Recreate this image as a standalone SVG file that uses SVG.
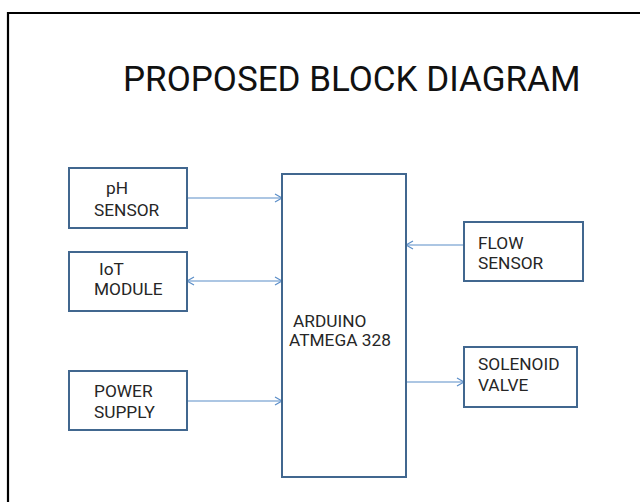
<svg xmlns="http://www.w3.org/2000/svg" width="640" height="502" viewBox="0 0 640 502">
<defs>
<style>
.box{fill:#ffffff;stroke:#41678f;stroke-width:2}
.lbl{font-family:Roboto,"Liberation Sans",sans-serif;font-size:17.3px;fill:#262626}
.title{font-family:Roboto,"Liberation Sans",sans-serif;font-size:35px;fill:#111111}
.conn{stroke:#5b8ec8;stroke-width:1.2;fill:none}
</style>
<marker id="arr" markerUnits="userSpaceOnUse" markerWidth="12" markerHeight="12" viewBox="0 0 12 12" refX="10" refY="6" orient="auto-start-reverse">
<path d="M3,2 L10,6 L3,10" fill="none" stroke="#5b8ec8" stroke-width="1.2"/>
</marker>
</defs>
<rect x="0" y="0" width="640" height="502" fill="#ffffff"/>
<path d="M8,502 V13 H640" fill="none" stroke="#000000" stroke-width="2.2"/>
<text class="title" x="123" y="91">PROPOSED BLOCK DIAGRAM</text>
<g id="connectors">
<line class="conn" x1="187" y1="198" x2="282" y2="198" marker-end="url(#arr)"/>
<line class="conn" x1="187" y1="281" x2="282" y2="281" marker-start="url(#arr)" marker-end="url(#arr)"/>
<line class="conn" x1="187" y1="401" x2="282" y2="401" marker-end="url(#arr)"/>
<line class="conn" x1="464" y1="245" x2="406" y2="245" marker-end="url(#arr)"/>
<line class="conn" x1="406" y1="382" x2="464" y2="382" marker-end="url(#arr)"/>
</g>
<g id="ph-sensor">
<rect class="box" x="69" y="168" width="118" height="60"/>
<text class="lbl" x="106" y="194">pH</text>
<text class="lbl" x="94" y="216">SENSOR</text>
</g>
<g id="iot-module">
<rect class="box" x="69" y="252" width="118" height="59"/>
<text class="lbl" x="99" y="275">IoT</text>
<text class="lbl" x="94" y="295">MODULE</text>
</g>
<g id="power-supply">
<rect class="box" x="69" y="371" width="118" height="59"/>
<text class="lbl" x="94" y="397">POWER</text>
<text class="lbl" x="94" y="418">SUPPLY</text>
</g>
<g id="arduino">
<rect class="box" x="282" y="174" width="124" height="303"/>
<text class="lbl" x="293" y="327">ARDUINO</text>
<text class="lbl" x="289" y="346">ATMEGA 328</text>
</g>
<g id="flow-sensor">
<rect class="box" x="464" y="222" width="119" height="59"/>
<text class="lbl" x="478" y="249">FLOW</text>
<text class="lbl" x="478" y="269">SENSOR</text>
</g>
<g id="solenoid-valve">
<rect class="box" x="464" y="347" width="113" height="60"/>
<text class="lbl" x="478" y="370">SOLENOID</text>
<text class="lbl" x="478" y="391">VALVE</text>
</g>
</svg>
